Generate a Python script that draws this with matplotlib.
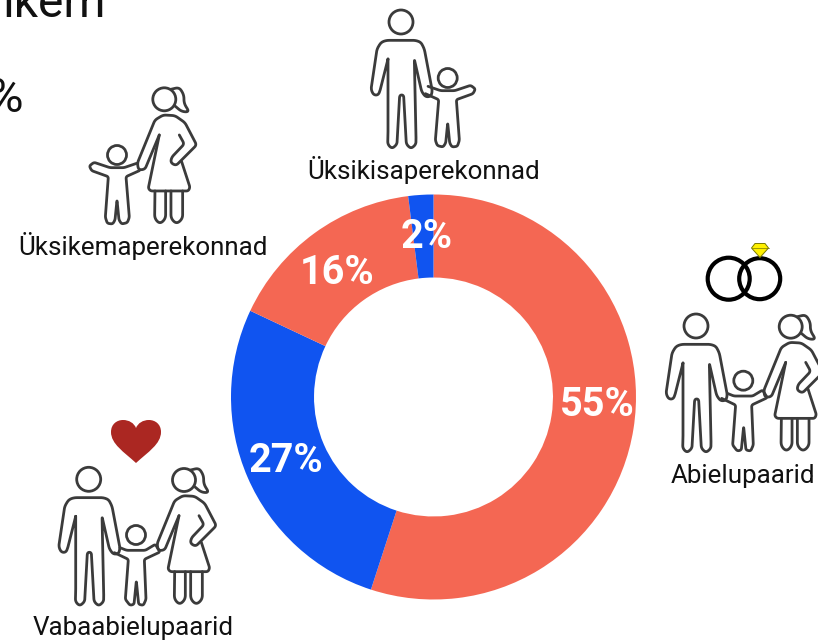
import numpy as np
import matplotlib
matplotlib.use("Agg")
import matplotlib.pyplot as plt
from matplotlib.patches import Circle, Polygon, PathPatch
from matplotlib.path import Path

W, H = 818, 641
plt.rcParams['font.family'] = ['Roboto', 'DejaVu Sans']

shares = [55, 27, 16, 2]
share_labels = ['55%', '27%', '16%', '2%']
share_colors = ['#F46753', '#1054F0', '#F46753', '#1054F0']
categories = ['Abielupaarid', 'Vabaabielupaarid', 'Üksikemaperekonnad', 'Üksikisaperekonnad']
title_fragment = 'ikem'
side_fragment = '%'

fig = plt.figure(figsize=(W / 100, H / 100), dpi=100, facecolor='white')

# donut
cx, cy, r = 433.5, 397, 202.5
pie_ax = fig.add_axes([(cx - r) / W, 1 - (cy + r) / H, 2 * r / W, 2 * r / H])
pie_ax.pie(shares, colors=share_colors, startangle=90, counterclock=False,
           radius=1, wedgeprops=dict(width=0.41, linewidth=0))
pie_ax.set_xlim(-1, 1)
pie_ax.set_ylim(-1, 1)
pie_ax.axis('off')

# overlay in pixel coordinates for icons and text
ov = fig.add_axes([0, 0, 1, 1], facecolor='none')
ov.set_xlim(0, W)
ov.set_ylim(H, 0)
ov.axis('off')

INK = '#3b3b3b'
LW = 2.0


def fillet(pts, d=3.0):
    p = np.asarray(pts, float)
    out = [p[0]]
    s = np.linspace(0, 1, 7)
    for i in range(1, len(p) - 1):
        a, b, c = p[i - 1], p[i], p[i + 1]
        la, lc = np.linalg.norm(a - b), np.linalg.norm(c - b)
        da = min(d, la / 2)
        dc = min(d, lc / 2)
        p0 = b + (a - b) / la * da
        p2 = b + (c - b) / lc * dc
        for u in s:
            out.append((1 - u) ** 2 * p0 + 2 * u * (1 - u) * b + u ** 2 * p2)
    out.append(p[-1])
    return np.array(out)


def draw(shape, head, at, mirror=False, d=3.0):
    p = (np.asarray(shape, float) - np.asarray(head, float)) / 3.0
    if mirror:
        p[:, 0] *= -1
    p = fillet(p, d) + np.asarray(at, float)
    ov.plot(p[:, 0], p[:, 1], color=INK, lw=LW, solid_capstyle='round',
            solid_joinstyle='round')


def head_circle(at, radius):
    ov.add_patch(Circle(at, radius, fill=False, ec=INK, lw=LW))


# man, traced in 3x crop coordinates
MAN_HEAD = (152, 67)
MAN = [(113, 178), (90, 270), (84, 286), (70, 286), (62, 270), (80, 148), (92, 128), (108, 122),
       (196, 122), (212, 128), (222, 148), (246, 274), (242, 290), (226, 292), (214, 276), (192, 178),
       (197, 405), (197, 434), (182, 447), (168, 434), (160, 286), (148, 286), (140, 434), (125, 447),
       (112, 434), (113, 405), (113, 178)]


def man(at):
    head_circle(at, 12.0)
    draw(MAN, MAN_HEAD, at)


# woman
WOMAN_HEAD = (493, 298)
W_ARMS = [(538, 405), (553, 432), (515, 472), (512, 488), (528, 497), (590, 435), (555, 368), (525, 347),
          (490, 345), (465, 360), (412, 490), (416, 510), (435, 508), (478, 405)]
W_DRESS = [(478, 405), (445, 565), (452, 573), (565, 573), (570, 562), (545, 485)]
W_TAIL = [(513, 268), (538, 262), (552, 285), (552, 310), (568, 336), (545, 335), (525, 318)]
W_LEG1 = [(465, 573), (464, 656), (480, 672), (497, 656), (497, 573)]
W_LEG2 = [(513, 573), (513, 656), (530, 672), (548, 656), (548, 573)]


def woman(at):
    head_circle(at, 11.5)
    draw(W_TAIL, WOMAN_HEAD, at, d=4)
    draw(W_ARMS, WOMAN_HEAD, at)
    draw(W_DRESS, WOMAN_HEAD, at, d=2)
    draw(W_LEG1, WOMAN_HEAD, at, d=4)
    draw(W_LEG2, WOMAN_HEAD, at, d=4)


# child with one free arm
CHILD_HEAD = (351, 465)
CHILD = [(410, 490), (372, 503), (330, 503), (282, 487), (268, 498), (275, 512), (325, 530),
         (316, 652), (322, 670), (338, 672), (345, 660), (351, 600), (357, 660), (365, 672), (382, 668),
         (388, 652), (378, 530), (418, 512)]
# child holding both hands
KID_HEAD = (280, 452)
KID = [(232, 490), (252, 498), (308, 498), (338, 480), (352, 503), (305, 525), (310, 645), (302, 663),
       (288, 660), (281, 590), (274, 660), (262, 663), (248, 645), (257, 525), (215, 505)]


def child(at, mirror=False):
    head_circle(at, 9.5)
    draw(CHILD, CHILD_HEAD, at, mirror=mirror, d=2)


def kid(at):
    head_circle(at, 9.5)
    draw(KID, KID_HEAD, at, d=2)


# single father
man((401, 22))
child((447.7, 78), mirror=True)
# single mother
woman((164.3, 99.3))
child((117, 155))
# married
man((696, 326))
kid((743.3, 380.7))
woman((790.7, 326.7))
# cohabiting
man((88.7, 479.3))
kid((136, 535))
woman((184, 480))

# rings
ov.add_patch(Circle((728.7, 278.7), 21, fill=False, ec='black', lw=3.0))
ov.add_patch(Circle((759.7, 278.7), 20.5, fill=False, ec='black', lw=3.0))
diamond = np.array([(751.5, 248), (755, 243.5), (765, 243.5), (768.5, 248), (760, 257.5)])
ov.add_patch(Polygon(diamond, closed=True, fc='#FFF000', ec='#7a7a00', lw=0.7))
ov.plot([751.5, 768.5], [248, 248], color='#7a7a00', lw=0.5)

# heart
hv = [(136, 463), (124, 452), (111, 444), (111, 432), (111, 424), (117, 420), (123, 420),
      (129, 420), (134, 423), (136, 428), (138, 423), (143, 420), (149, 420),
      (155, 420), (161, 424), (161, 432), (161, 444), (148, 452), (136, 463)]
hc = [Path.MOVETO] + [Path.CURVE4] * 18
ov.add_patch(PathPatch(Path(hv, hc), fc='#AB2722', ec='none'))

# labels
label_pos = [(743, 476), (133, 628), (143, 246), (424, 170)]
for name, (x, y) in zip(categories, label_pos):
    ov.text(x, y, name, ha='center', va='center', fontsize=18.7, color='#111111')

pct_pos = [(597, 405), (286, 461), (337, 273), (427, 237)]
for s, (x, y) in zip(share_labels, pct_pos):
    ov.text(x, y, s, ha='center', va='center', fontsize=28.5, fontweight='bold', color='white')

ov.text(3, 17, title_fragment, ha='left', va='baseline', fontsize=34.6, color='#111111')
ov.text(23, 112, side_fragment, ha='right', va='baseline', fontsize=35, color='#111111')

fig.savefig('out.png', dpi=100, facecolor='white')
